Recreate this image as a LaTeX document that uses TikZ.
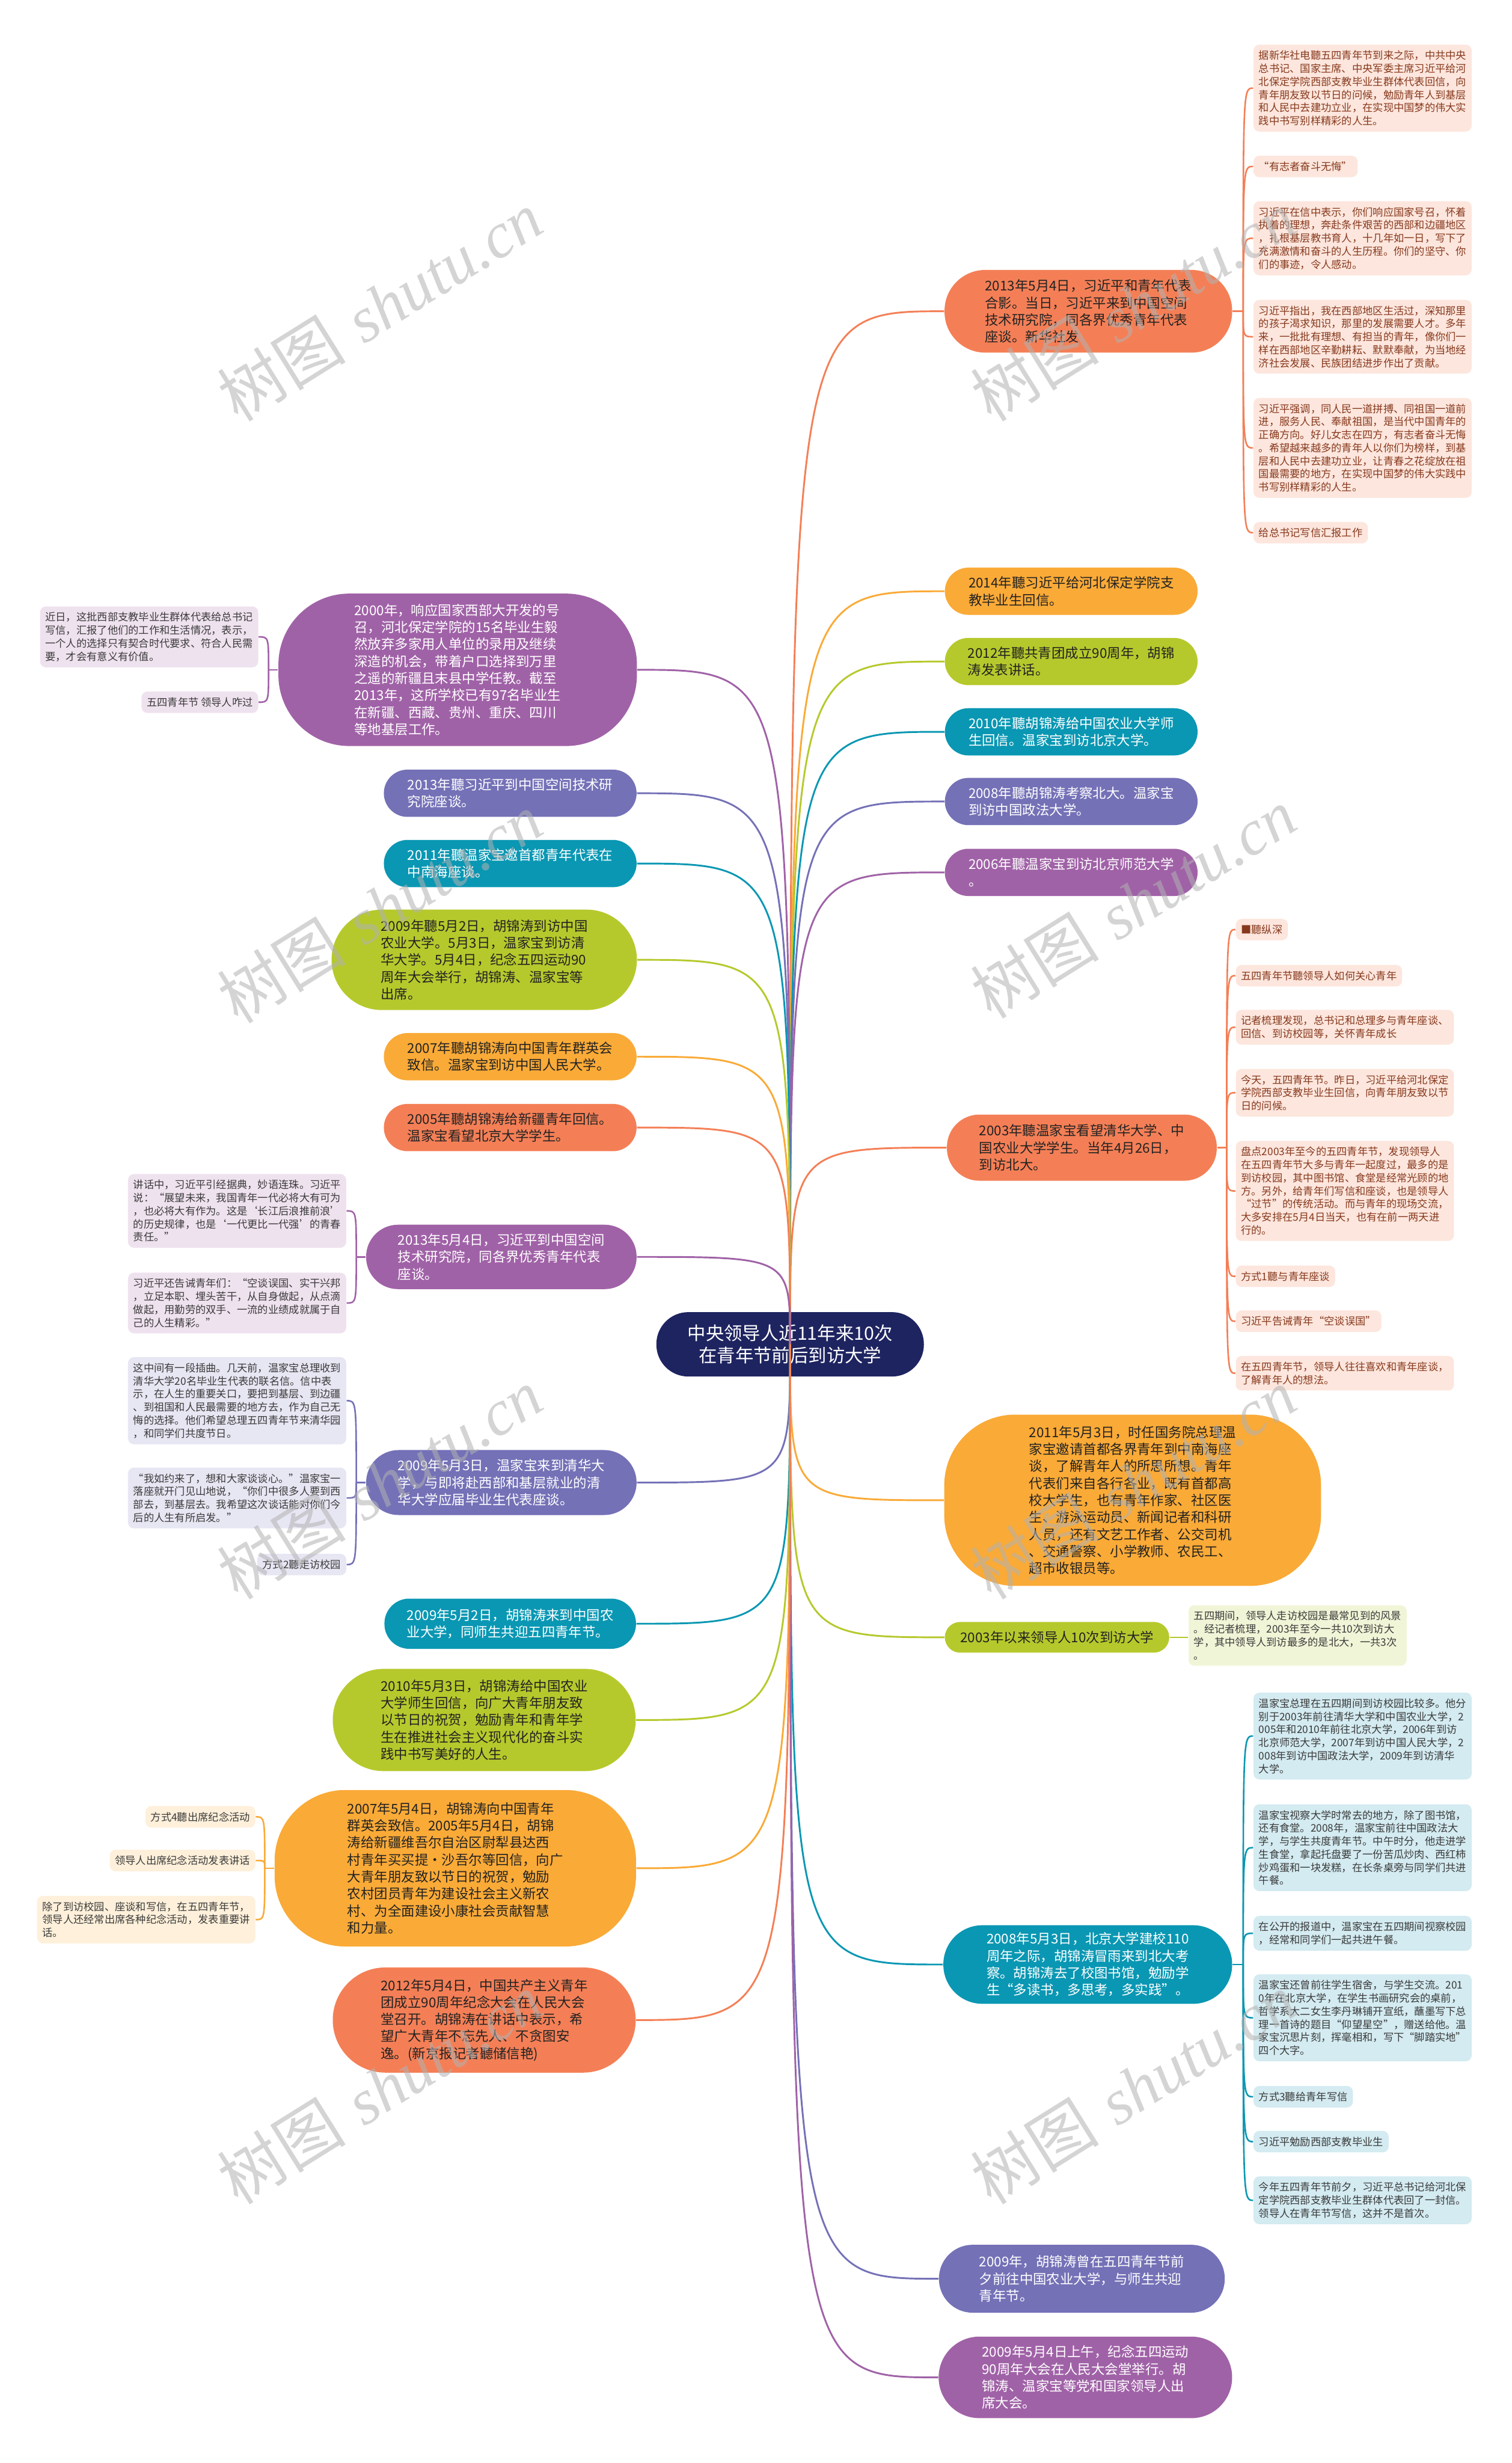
\documentclass[tikz,border=0pt]{standalone}
\usepackage{fontspec}
\setmainfont{Noto Sans CJK SC}
\newfontfamily\markfont{Liberation Serif}
\usepackage{xcolor}
\usetikzlibrary{positioning}

\definecolor{mmNavy}{HTML}{1E2460}
\definecolor{mmRed}{HTML}{F47F56}
\definecolor{mmOrange}{HTML}{FAAA37}
\definecolor{mmLime}{HTML}{B6C92C}
\definecolor{mmTeal}{HTML}{0A97B3}
\definecolor{mmIndigo}{HTML}{7471B7}
\definecolor{mmPurple}{HTML}{A062A7}
\definecolor{mmRedL}{HTML}{FDE6DD}
\definecolor{mmOrangeL}{HTML}{FEF0DA}
\definecolor{mmLimeL}{HTML}{F1F5D7}
\definecolor{mmTealL}{HTML}{D3EBF1}
\definecolor{mmIndigoL}{HTML}{E7E6F3}
\definecolor{mmPurpleL}{HTML}{EFE2EF}
\definecolor{mmInk}{HTML}{222222}
\definecolor{mmRedT}{HTML}{86391D}
\definecolor{mmLeafT}{HTML}{3A3A3A}

\begin{document}
\begin{tikzpicture}[
  x=1cm, y=-1cm,
  topic/.style={inner sep=0pt, align=left, text=mmInk,
    font=\fontsize{6.5}{8.2}\selectfont},
  midtopic/.style={topic, minimum width=4.28cm, minimum height=0.8cm,
    rounded corners=0.4cm},
  leaf/.style={inner xsep=0.09cm, inner ysep=0.1cm, rounded corners=0.1cm,
    align=left, text=mmLeafT, font=\fontsize{5}{6.3}\selectfont},
  link/.style={line width=0.85pt},
  twig/.style={line width=0.75pt},
  wmark/.style={rotate=32, text=black!30, opacity=0.55,
    font=\fontsize{31}{31}\selectfont}
]
\useasboundingbox (0,0) rectangle (25.6,41.7);
\fill[white] (0,0) rectangle (25.6,41.7);

% central topic
\node[topic, fill=mmNavy, text=white, minimum width=4.53cm, minimum height=1.09cm,
  rounded corners=0.54cm, align=center, font=\fontsize{8.8}{10.8}\selectfont]
  (root) at (13.38,22.76) {中央领导人近11年来10次\\在青年节前后到访大学};

% right branches
\node[topic, fill=mmRed, minimum width=4.87cm, minimum height=1.40cm, rounded corners=0.69cm] (r1) at (18.43,5.27) {2013年5月4日，习近平和青年代表\\合影。当日，习近平来到中国空间\\技术研究院，同各界优秀青年代表\\座谈。新华社发};
\node[midtopic, fill=mmOrange] (r2) at (18.14,10.01) {2014年聽习近平给河北保定学院支\\教毕业生回信。};
\node[midtopic, fill=mmLime] (r3) at (18.14,11.20) {2012年聽共青团成立90周年，胡锦\\涛发表讲话。};
\node[midtopic, fill=mmTeal, text=white] (r4) at (18.14,12.39) {2010年聽胡锦涛给中国农业大学师\\生回信。温家宝到访北京大学。};
\node[midtopic, fill=mmIndigo, text=white] (r5) at (18.14,13.57) {2008年聽胡锦涛考察北大。温家宝\\到访中国政法大学。};
\node[midtopic, fill=mmPurple, text=white] (r6) at (18.14,14.77) {2006年聽温家宝到访北京师范大学\\。};
\node[topic, fill=mmRed, minimum width=4.57cm, minimum height=1.12cm, rounded corners=0.55cm] (r7) at (18.32,19.43) {2003年聽温家宝看望清华大学、中\\国农业大学学生。当年4月26日，\\到访北大。};
\node[topic, fill=mmOrange, minimum width=6.38cm, minimum height=2.90cm, rounded corners=1.2cm] (r8) at (19.18,25.40) {2011年5月3日，时任国务院总理温\\家宝邀请首都各界青年到中南海座\\谈，了解青年人的所思所想。青年\\代表们来自各行各业，既有首都高\\校大学生，也有青年作家、社区医\\生、游泳运动员、新闻记者和科研\\人员，还有文艺工作者、公交司机\\、交通警察、小学教师、农民工、\\超市收银员等。};
\node[topic, fill=mmLime, minimum width=3.80cm, minimum height=0.52cm, rounded corners=0.26cm] (r9) at (17.90,27.72) {2003年以来领导人10次到访大学};
\node[topic, fill=mmTeal, text=white, minimum width=4.89cm, minimum height=1.33cm, rounded corners=0.66cm] (r10) at (18.42,33.26) {2008年5月3日，北京大学建校110\\周年之际，胡锦涛冒雨来到北大考\\察。胡锦涛去了校图书馆，勉励学\\生“多读书，多思考，多实践”。};
\node[topic, fill=mmIndigo, text=white, minimum width=4.84cm, minimum height=1.15cm, rounded corners=0.57cm] (r11) at (18.32,38.58) {2009年，胡锦涛曾在五四青年节前\\夕前往中国农业大学，与师生共迎\\青年节。};
\node[topic, fill=mmPurple, text=white, minimum width=4.97cm, minimum height=1.38cm, rounded corners=0.69cm] (r12) at (18.38,40.25) {2009年5月4日上午，纪念五四运动\\90周年大会在人民大会堂举行。胡\\锦涛、温家宝等党和国家领导人出\\席大会。};

% left branches
\node[topic, fill=mmPurple, text=white, minimum width=6.07cm, minimum height=2.58cm, rounded corners=1.2cm] (l1) at (7.75,11.34) {2000年，响应国家西部大开发的号\\召，河北保定学院的15名毕业生毅\\然放弃多家用人单位的录用及继续\\深造的机会，带着户口选择到万里\\之遥的新疆且末县中学任教。截至\\2013年，这所学校已有97名毕业生\\在新疆、西藏、贵州、重庆、四川\\等地基层工作。};
\node[midtopic, fill=mmIndigo, text=white] (l2) at (8.64,13.43) {2013年聽习近平到中国空间技术研\\究院座谈。};
\node[midtopic, fill=mmTeal, text=white] (l3) at (8.64,14.62) {2011年聽温家宝邀首都青年代表在\\中南海座谈。};
\node[topic, fill=mmLime, minimum width=5.17cm, minimum height=1.70cm, rounded corners=0.85cm] (l4) at (8.20,16.25) {2009年聽5月2日，胡锦涛到访中国\\农业大学。5月3日，温家宝到访清\\华大学。5月4日，纪念五四运动90\\周年大会举行，胡锦涛、温家宝等\\出席。};
\node[midtopic, fill=mmOrange] (l5) at (8.64,17.89) {2007年聽胡锦涛向中国青年群英会\\致信。温家宝到访中国人民大学。};
\node[midtopic, fill=mmRed] (l6) at (8.64,19.09) {2005年聽胡锦涛给新疆青年回信。\\温家宝看望北京大学学生。};
\node[topic, fill=mmPurple, text=white, minimum width=4.58cm, minimum height=1.09cm, rounded corners=0.54cm] (l7) at (8.49,21.28) {2013年5月4日，习近平到中国空间\\技术研究院，同各界优秀青年代表\\座谈。};
\node[topic, fill=mmIndigo, text=white, minimum width=4.58cm, minimum height=1.10cm, rounded corners=0.55cm] (l8) at (8.49,25.10) {2009年5月3日，温家宝来到清华大\\学，与即将赴西部和基层就业的清\\华大学应届毕业生代表座谈。};
\node[topic, fill=mmTeal, text=white, minimum width=4.26cm, minimum height=0.85cm, rounded corners=0.42cm] (l9) at (8.64,27.49) {2009年5月2日，胡锦涛来到中国农\\业大学，同师生共迎五四青年节。};
\node[topic, fill=mmLime, minimum width=5.13cm, minimum height=1.73cm, rounded corners=0.86cm] (l10) at (8.20,29.12) {2010年5月3日，胡锦涛给中国农业\\大学师生回信，向广大青年朋友致\\以节日的祝贺，勉励青年和青年学\\生在推进社会主义现代化的奋斗实\\践中书写美好的人生。};
\node[topic, fill=mmOrange, minimum width=6.12cm, minimum height=2.65cm, rounded corners=1.2cm] (l11) at (7.71,31.63) {2007年5月4日，胡锦涛向中国青年\\群英会致信。2005年5月4日，胡锦\\涛给新疆维吾尔自治区尉犁县达西\\村青年买买提·沙吾尔等回信，向广\\大青年朋友致以节日的祝贺，勉励\\农村团员青年为建设社会主义新农\\村、为全面建设小康社会贡献智慧\\和力量。};
\node[topic, fill=mmRed, minimum width=5.13cm, minimum height=1.78cm, rounded corners=0.89cm] (l12) at (8.20,34.20) {2012年5月4日，中国共产主义青年\\团成立90周年纪念大会在人民大会\\堂召开。胡锦涛在讲话中表示，希\\望广大青年不忘先人、不贪图安\\逸。(新京报记者聽储信艳)};

% leaves of r1
\node[leaf, fill=mmRedL, text=mmRedT, anchor=north west] (r1a) at (21.22,0.75) {据新华社电聽五四青年节到来之际，中共中央\\总书记、国家主席、中央军委主席习近平给河\\北保定学院西部支教毕业生群体代表回信，向\\青年朋友致以节日的问候，勉励青年人到基层\\和人民中去建功立业，在实现中国梦的伟大实\\践中书写别样精彩的人生。};
\node[leaf, fill=mmRedL, text=mmRedT, anchor=north west] (r1b) at (21.22,2.63) {“有志者奋斗无悔”};
\node[leaf, fill=mmRedL, text=mmRedT, anchor=north west] (r1c) at (21.22,3.40) {习近平在信中表示，你们响应国家号召，怀着\\执着的理想，奔赴条件艰苦的西部和边疆地区\\，扎根基层教书育人，十几年如一日，写下了\\充满激情和奋斗的人生历程。你们的坚守、你\\们的事迹，令人感动。};
\node[leaf, fill=mmRedL, text=mmRedT, anchor=north west] (r1d) at (21.22,5.07) {习近平指出，我在西部地区生活过，深知那里\\的孩子渴求知识，那里的发展需要人才。多年\\来，一批批有理想、有担当的青年，像你们一\\样在西部地区辛勤耕耘、默默奉献，为当地经\\济社会发展、民族团结进步作出了贡献。};
\node[leaf, fill=mmRedL, text=mmRedT, anchor=north west] (r1e) at (21.22,6.73) {习近平强调，同人民一道拼搏、同祖国一道前\\进，服务人民、奉献祖国，是当代中国青年的\\正确方向。好儿女志在四方，有志者奋斗无悔\\。希望越来越多的青年人以你们为榜样，到基\\层和人民中去建功立业，让青春之花绽放在祖\\国最需要的地方，在实现中国梦的伟大实践中\\书写别样精彩的人生。};
\node[leaf, fill=mmRedL, text=mmRedT, anchor=north west] (r1f) at (21.22,8.83) {给总书记写信汇报工作};

% leaves of r7
\node[leaf, fill=mmRedL, text=mmRedT, anchor=north west] (r7a) at (20.92,15.55) {■聽纵深};
\node[leaf, fill=mmRedL, text=mmRedT, anchor=north west] (r7b) at (20.92,16.33) {五四青年节聽领导人如何关心青年};
\node[leaf, fill=mmRedL, text=mmRedT, anchor=north west] (r7c) at (20.92,17.09) {记者梳理发现，总书记和总理多与青年座谈、\\回信、到访校园等，关怀青年成长};
\node[leaf, fill=mmRedL, text=mmRedT, anchor=north west] (r7d) at (20.92,18.09) {今天，五四青年节。昨日，习近平给河北保定\\学院西部支教毕业生回信，向青年朋友致以节\\日的问候。};
\node[leaf, fill=mmRedL, text=mmRedT, anchor=north west] (r7e) at (20.92,19.31) {盘点2003年至今的五四青年节，发现领导人\\在五四青年节大多与青年一起度过，最多的是\\到访校园，其中图书馆、食堂是经常光顾的地\\方。另外，给青年们写信和座谈，也是领导人\\“过节”的传统活动。而与青年的现场交流，\\大多安排在5月4日当天，也有在前一两天进\\行的。};
\node[leaf, fill=mmRedL, text=mmRedT, anchor=north west] (r7f) at (20.92,21.42) {方式1聽与青年座谈};
\node[leaf, fill=mmRedL, text=mmRedT, anchor=north west] (r7g) at (20.92,22.18) {习近平告诫青年“空谈误国”};
\node[leaf, fill=mmRedL, text=mmRedT, anchor=north west] (r7h) at (20.92,22.95) {在五四青年节，领导人往往喜欢和青年座谈，\\了解青年人的想法。};

% leaf of r9
\node[leaf, fill=mmLimeL, anchor=north west] (r9a) at (20.12,27.17) {五四期间，领导人走访校园是最常见到的风景\\。经记者梳理，2003年至今一共10次到访大\\学，其中领导人到访最多的是北大，一共3次\\。};

% leaves of r10
\node[leaf, fill=mmTealL, anchor=north west] (r10a) at (21.22,28.65) {温家宝总理在五四期间到访校园比较多。他分\\别于2003年前往清华大学和中国农业大学，2\\005年和2010年前往北京大学，2006年到访\\北京师范大学，2007年到访中国人民大学，2\\008年到访中国政法大学，2009年到访清华\\大学。};
\node[leaf, fill=mmTealL, anchor=north west] (r10b) at (21.22,30.54) {温家宝视察大学时常去的地方，除了图书馆，\\还有食堂。2008年，温家宝前往中国政法大\\学，与学生共度青年节。中午时分，他走进学\\生食堂，拿起托盘要了一份苦瓜炒肉、西红柿\\炒鸡蛋和一块发糕，在长条桌旁与同学们共进\\午餐。};
\node[leaf, fill=mmTealL, anchor=north west] (r10c) at (21.22,32.43) {在公开的报道中，温家宝在五四期间视察校园\\，经常和同学们一起共进午餐。};
\node[leaf, fill=mmTealL, anchor=north west] (r10d) at (21.22,33.42) {温家宝还曾前往学生宿舍，与学生交流。201\\0年在北京大学，在学生书画研究会的桌前，\\哲学系大二女生李丹琳铺开宣纸，蘸墨写下总\\理一首诗的题目“仰望星空”，赠送给他。温\\家宝沉思片刻，挥毫相和，写下“脚踏实地”\\四个大字。};
\node[leaf, fill=mmTealL, anchor=north west] (r10e) at (21.22,35.31) {方式3聽给青年写信};
\node[leaf, fill=mmTealL, anchor=north west] (r10f) at (21.22,36.07) {习近平勉励西部支教毕业生};
\node[leaf, fill=mmTealL, anchor=north west] (r10g) at (21.22,36.84) {今年五四青年节前夕，习近平总书记给河北保\\定学院西部支教毕业生群体代表回了一封信。\\领导人在青年节写信，这并不是首次。};

% leaves of l1
\node[leaf, fill=mmPurpleL, anchor=north east] (l1a) at (4.38,10.26) {近日，这批西部支教毕业生群体代表给总书记\\写信，汇报了他们的工作和生活情况，表示，\\一个人的选择只有契合时代要求、符合人民需\\要，才会有意义有价值。};
\node[leaf, fill=mmPurpleL, anchor=north east] (l1b) at (4.38,11.70) {五四青年节 领导人咋过};

% leaves of l7
\node[leaf, fill=mmPurpleL, anchor=north east] (l7a) at (5.87,19.87) {讲话中，习近平引经据典，妙语连珠。习近平\\说：“展望未来，我国青年一代必将大有可为\\，也必将大有作为。这是‘长江后浪推前浪’\\的历史规律，也是‘一代更比一代强’的青春\\责任。”};
\node[leaf, fill=mmPurpleL, anchor=north east] (l7b) at (5.87,21.54) {习近平还告诫青年们：“空谈误国、实干兴邦\\，立足本职、埋头苦干，从自身做起，从点滴\\做起，用勤劳的双手、一流的业绩成就属于自\\己的人生精彩。”};

% leaves of l8
\node[leaf, fill=mmIndigoL, anchor=north east] (l8a) at (5.87,22.97) {这中间有一段插曲。几天前，温家宝总理收到\\清华大学20名毕业生代表的联名信。信中表\\示，在人生的重要关口，要把到基层、到边疆\\、到祖国和人民最需要的地方去，作为自己无\\悔的选择。他们希望总理五四青年节来清华园\\，和同学们共度节日。};
\node[leaf, fill=mmIndigoL, anchor=north east] (l8b) at (5.87,24.84) {“我如约来了，想和大家谈谈心。”温家宝一\\落座就开门见山地说，“你们中很多人要到西\\部去，到基层去。我希望这次谈话能对你们今\\后的人生有所启发。”};
\node[leaf, fill=mmIndigoL, anchor=north east] (l8c) at (5.87,26.30) {方式2聽走访校园};

% leaves of l11
\node[leaf, fill=mmOrangeL, anchor=north east] (l11a) at (4.33,30.57) {方式4聽出席纪念活动};
\node[leaf, fill=mmOrangeL, anchor=north east] (l11b) at (4.33,31.31) {领导人出席纪念活动发表讲话};
\node[leaf, fill=mmOrangeL, anchor=north east] (l11c) at (4.33,32.09) {除了到访校园、座谈和写信，在五四青年节，\\领导人还经常出席各种纪念活动，发表重要讲\\话。};

% junctions
\coordinate (r1j) at ([xshift=0.18cm]r1.east);
\coordinate (r7j) at ([xshift=0.16cm]r7.east);
\coordinate (r10j) at ([xshift=0.18cm]r10.east);
\coordinate (l1j) at ([xshift=-0.16cm]l1.west);
\coordinate (l7j) at ([xshift=-0.16cm]l7.west);
\coordinate (l8j) at ([xshift=-0.16cm]l8.west);
\coordinate (l11j) at ([xshift=-0.16cm]l11.west);

% main links
\draw[link, mmRed] (root.center) .. controls (root.center |- r1.west) .. (r1.west);
\draw[link, mmOrange] (root.center) .. controls (root.center |- r2.west) .. (r2.west);
\draw[link, mmLime] (root.center) .. controls (root.center |- r3.west) .. (r3.west);
\draw[link, mmTeal] (root.center) .. controls (root.center |- r4.west) .. (r4.west);
\draw[link, mmIndigo] (root.center) .. controls (root.center |- r5.west) .. (r5.west);
\draw[link, mmPurple] (root.center) .. controls (root.center |- r6.west) .. (r6.west);
\draw[link, mmRed] (root.center) .. controls (root.center |- r7.west) .. (r7.west);
\draw[link, mmOrange] (root.center) .. controls (root.center |- r8.west) .. (r8.west);
\draw[link, mmLime] (root.center) .. controls (root.center |- r9.west) .. (r9.west);
\draw[link, mmTeal] (root.center) .. controls (root.center |- r10.west) .. (r10.west);
\draw[link, mmIndigo] (root.center) .. controls (root.center |- r11.west) .. (r11.west);
\draw[link, mmPurple] (root.center) .. controls (root.center |- r12.west) .. (r12.west);
\draw[link, mmPurple] (root.center) .. controls (root.center |- l1.east) .. (l1.east);
\draw[link, mmIndigo] (root.center) .. controls (root.center |- l2.east) .. (l2.east);
\draw[link, mmTeal] (root.center) .. controls (root.center |- l3.east) .. (l3.east);
\draw[link, mmLime] (root.center) .. controls (root.center |- l4.east) .. (l4.east);
\draw[link, mmOrange] (root.center) .. controls (root.center |- l5.east) .. (l5.east);
\draw[link, mmRed] (root.center) .. controls (root.center |- l6.east) .. (l6.east);
\draw[link, mmPurple] (root.center) .. controls (root.center |- l7.east) .. (l7.east);
\draw[link, mmIndigo] (root.center) .. controls (root.center |- l8.east) .. (l8.east);
\draw[link, mmTeal] (root.center) .. controls (root.center |- l9.east) .. (l9.east);
\draw[link, mmLime] (root.center) .. controls (root.center |- l10.east) .. (l10.east);
\draw[link, mmOrange] (root.center) .. controls (root.center |- l11.east) .. (l11.east);
\draw[link, mmRed] (root.center) .. controls (root.center |- l12.east) .. (l12.east);

% leaf links
\draw[twig, mmRed] (r1.east) -- (r1j);
\draw[twig, mmRed] (r1j) .. controls (r1j |- r1a.west) .. (r1a.west);
\draw[twig, mmRed] (r1j) .. controls (r1j |- r1b.west) .. (r1b.west);
\draw[twig, mmRed] (r1j) .. controls (r1j |- r1c.west) .. (r1c.west);
\draw[twig, mmRed] (r1j) .. controls (r1j |- r1d.west) .. (r1d.west);
\draw[twig, mmRed] (r1j) .. controls (r1j |- r1e.west) .. (r1e.west);
\draw[twig, mmRed] (r1j) .. controls (r1j |- r1f.west) .. (r1f.west);
\draw[twig, mmRed] (r7.east) -- (r7j);
\draw[twig, mmRed] (r7j) .. controls (r7j |- r7a.west) .. (r7a.west);
\draw[twig, mmRed] (r7j) .. controls (r7j |- r7b.west) .. (r7b.west);
\draw[twig, mmRed] (r7j) .. controls (r7j |- r7c.west) .. (r7c.west);
\draw[twig, mmRed] (r7j) .. controls (r7j |- r7d.west) .. (r7d.west);
\draw[twig, mmRed] (r7j) .. controls (r7j |- r7e.west) .. (r7e.west);
\draw[twig, mmRed] (r7j) .. controls (r7j |- r7f.west) .. (r7f.west);
\draw[twig, mmRed] (r7j) .. controls (r7j |- r7g.west) .. (r7g.west);
\draw[twig, mmRed] (r7j) .. controls (r7j |- r7h.west) .. (r7h.west);
\draw[twig, mmLime] (r9.east) -- (r9.east -| r9a.west);
\draw[twig, mmTeal] (r10.east) -- (r10j);
\draw[twig, mmTeal] (r10j) .. controls (r10j |- r10a.west) .. (r10a.west);
\draw[twig, mmTeal] (r10j) .. controls (r10j |- r10b.west) .. (r10b.west);
\draw[twig, mmTeal] (r10j) .. controls (r10j |- r10c.west) .. (r10c.west);
\draw[twig, mmTeal] (r10j) .. controls (r10j |- r10d.west) .. (r10d.west);
\draw[twig, mmTeal] (r10j) .. controls (r10j |- r10e.west) .. (r10e.west);
\draw[twig, mmTeal] (r10j) .. controls (r10j |- r10f.west) .. (r10f.west);
\draw[twig, mmTeal] (r10j) .. controls (r10j |- r10g.west) .. (r10g.west);
\draw[twig, mmPurple] (l1.west) -- (l1j);
\draw[twig, mmPurple] (l1j) .. controls (l1j |- l1a.east) .. (l1a.east);
\draw[twig, mmPurple] (l1j) .. controls (l1j |- l1b.east) .. (l1b.east);
\draw[twig, mmPurple] (l7.west) -- (l7j);
\draw[twig, mmPurple] (l7j) .. controls (l7j |- l7a.east) .. (l7a.east);
\draw[twig, mmPurple] (l7j) .. controls (l7j |- l7b.east) .. (l7b.east);
\draw[twig, mmIndigo] (l8.west) -- (l8j);
\draw[twig, mmIndigo] (l8j) .. controls (l8j |- l8a.east) .. (l8a.east);
\draw[twig, mmIndigo] (l8j) .. controls (l8j |- l8b.east) .. (l8b.east);
\draw[twig, mmIndigo] (l8j) .. controls (l8j |- l8c.east) .. (l8c.east);
\draw[twig, mmOrange] (l11.west) -- (l11j);
\draw[twig, mmOrange] (l11j) .. controls (l11j |- l11a.east) .. (l11a.east);
\draw[twig, mmOrange] (l11j) .. controls (l11j |- l11b.east) .. (l11b.east);
\draw[twig, mmOrange] (l11j) .. controls (l11j |- l11c.east) .. (l11c.east);

% watermark
\node[wmark] (wm1) at (6.43,5.18) {树图\hspace{0.3em}{\markfont\itshape shutu.cn}};
\node[wmark] (wm2) at (19.19,5.18) {树图\hspace{0.3em}{\markfont\itshape shutu.cn}};
\node[wmark] (wm3) at (6.43,15.37) {树图\hspace{0.3em}{\markfont\itshape shutu.cn}};
\node[wmark] (wm4) at (19.19,15.29) {树图\hspace{0.3em}{\markfont\itshape shutu.cn}};
\node[wmark] (wm5) at (6.43,25.12) {树图\hspace{0.3em}{\markfont\itshape shutu.cn}};
\node[wmark] (wm6) at (19.19,25.12) {树图\hspace{0.3em}{\markfont\itshape shutu.cn}};
\node[wmark] (wm7) at (6.43,35.36) {树图\hspace{0.3em}{\markfont\itshape shutu.cn}};
\node[wmark] (wm8) at (19.19,35.36) {树图\hspace{0.3em}{\markfont\itshape shutu.cn}};
\end{tikzpicture}
\end{document}
